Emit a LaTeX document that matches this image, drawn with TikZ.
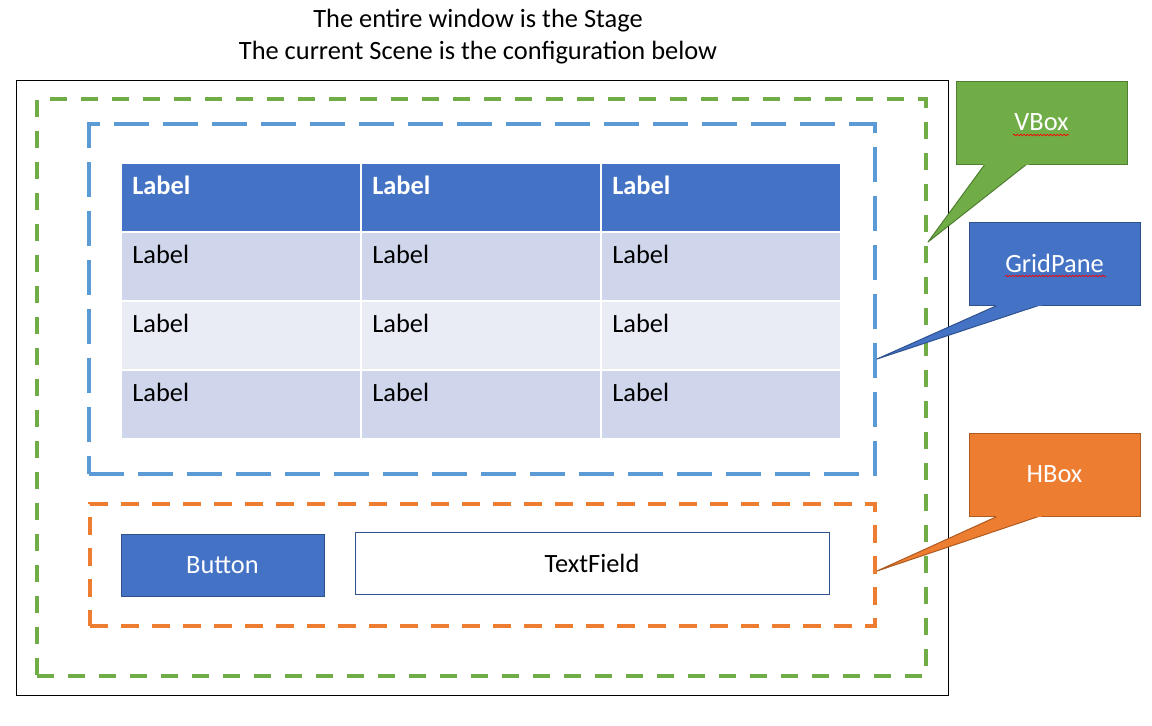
\documentclass[tikz,border=0pt]{standalone}
\usepackage{fontspec}
\setmainfont{Carlito}
\usepackage{xcolor}
\usetikzlibrary{positioning,calc,decorations.pathmorphing}

\definecolor{vgreen}{HTML}{70AD47}
\definecolor{vgreendark}{HTML}{507E32}
\definecolor{gblue}{HTML}{5B9BD5}
\definecolor{hdrblue}{HTML}{4472C4}
\definecolor{edgeblue}{HTML}{2F528F}
\definecolor{horange}{HTML}{ED7D31}
\definecolor{horangedark}{HTML}{AE5A21}
\definecolor{rowdark}{HTML}{CFD5EA}
\definecolor{rowlight}{HTML}{E9EBF5}

\begin{document}
\begin{tikzpicture}[x=0.75pt, y=-0.75pt,
        font=\fontsize{19.8}{24}\selectfont,
        box/.style={rectangle, anchor=north west, inner sep=0pt, outer sep=0pt},
        stagebox/.style={box, draw, line width=0.75pt, minimum width=699pt, minimum height=461.25pt},
        vboxline/.style={box, draw=vgreen, line width=2.7pt, dash pattern=on 12.75pt off 10.5pt},
        gridline/.style={box, draw=gblue, line width=2.5pt, dash pattern=on 26.25pt off 10.5pt},
        hboxline/.style={box, draw=horange, line width=2.5pt, dash pattern=on 13.5pt off 9.75pt},
        cell/.style={box, draw=white, line width=1.5pt, minimum width=180pt, minimum height=51.75pt},
        control/.style={box, draw=edgeblue, line width=0.75pt, minimum height=46.5pt},
        callout/.style={box, text=white, line width=0.75pt, minimum width=128.25pt, minimum height=62.25pt},
        squiggle/.style={draw=red, line width=0.5pt, decorate, decoration={snake, amplitude=0.6pt, segment length=2.5pt}}
    ]
        \useasboundingbox (0,0) rectangle (1152,725);

        % Title
        \node[align=center] (title) at (478,37) {The entire window is the Stage\\The current Scene is the configuration below};

        % Stage, VBox, GridPane and HBox frames
        \node[stagebox] (stage) at (16,80) {};
        \node[vboxline, minimum width=666.75pt, minimum height=432.75pt] (vframe) at (37,99) {};
        \node[gridline, minimum width=589.5pt, minimum height=262.5pt] (gframe) at (89,124) {};
        \node[hboxline, minimum width=588.75pt, minimum height=91.5pt] (hframe) at (90,504) {};

        % Table of labels
        \foreach \r/\shade in {0/hdrblue, 1/rowdark, 2/rowlight, 3/rowdark} {
            \foreach \c in {0,1,2} {
                \node[cell, fill=\shade] (cell\r\c) at (121+240*\c, 163+69*\r) {};
                \ifnum\r=0
                    \node[anchor=base west, inner sep=0pt, text=white, font=\fontsize{19.8}{24}\selectfont\bfseries] (lab\r\c) at ($(cell\r\c.north west)+(11,31)$) {Label};
                \else
                    \node[anchor=base west, inner sep=0pt] (lab\r\c) at ($(cell\r\c.north west)+(11,31)$) {Label};
                \fi
            }
        }

        % Button and TextField
        \node[control, fill=hdrblue, text=white, minimum width=152.25pt] (button) at (121,534) {\raisebox{-3pt}{Button}};
        \node[control, fill=white, minimum width=355.5pt] (textfield) at (355,532) {TextField};

        % Callouts
        \node[callout, fill=vgreen, draw=vgreendark] (vbox) at (956,81) {\raisebox{-1.5pt}{VBox}};
        \node[callout, fill=hdrblue, draw=edgeblue] (gridpane) at (969,222) {\raisebox{-1.5pt}{GridPane}};
        \node[callout, fill=horange, draw=horangedark] (hbox) at (969,433) {\raisebox{-1.5pt}{HBox}};

        \coordinate (vtip) at (928,242);
        \coordinate (gtip) at (877,359);
        \coordinate (htip) at (877,571);

        \filldraw[fill=vgreen, draw=vgreendark, line width=0.75pt, line join=round]
            ($(vbox.south west)!0.17!(vbox.south east)$) -- (vtip) -- ($(vbox.south west)!0.415!(vbox.south east)$);
        \filldraw[fill=hdrblue, draw=edgeblue, line width=0.75pt, line join=round]
            ($(gridpane.south west)!0.17!(gridpane.south east)$) -- (gtip) -- ($(gridpane.south west)!0.415!(gridpane.south east)$);
        \filldraw[fill=horange, draw=horangedark, line width=0.75pt, line join=round]
            ($(hbox.south west)!0.17!(hbox.south east)$) -- (htip) -- ($(hbox.south west)!0.415!(hbox.south east)$);
        \fill[vgreen] ($(vbox.south west)!0.16!(vbox.south east)+(0,-1)$) rectangle ($(vbox.south west)!0.425!(vbox.south east)+(0,1)$);
        \fill[hdrblue] ($(gridpane.south west)!0.16!(gridpane.south east)+(0,-1)$) rectangle ($(gridpane.south west)!0.425!(gridpane.south east)+(0,1)$);
        \fill[horange] ($(hbox.south west)!0.16!(hbox.south east)+(0,-1)$) rectangle ($(hbox.south west)!0.425!(hbox.south east)+(0,1)$);

        % Spell-check underlines
        \draw[squiggle] (1013,135) -- (1069,135);
        \draw[squiggle] (1005,276) -- (1106,276);
    \end{tikzpicture}
\end{document}
